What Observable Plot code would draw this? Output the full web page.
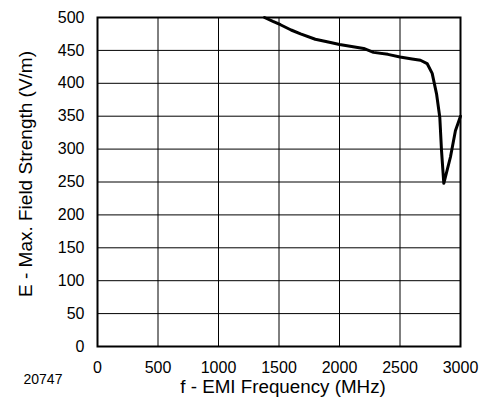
<!DOCTYPE html>
<html><head><meta charset="utf-8">
<script src="https://cdn.jsdelivr.net/npm/d3@7"></script>
<script src="https://cdn.jsdelivr.net/npm/@observablehq/plot@0.6"></script>
<style>body{margin:0;background:#fff}</style>
</head><body><div id="chart"></div>
<script>
const freq = [1380, 1450, 1512, 1600, 1678, 1800, 1926, 2000, 2100, 2200, 2281, 2400, 2500, 2600, 2669, 2724, 2766, 2802, 2829, 2843, 2862, 2917, 2958, 3000];
const field = [500, 494, 489, 481, 475, 467, 462, 459, 456, 453, 447, 444, 440, 437, 435, 430, 415, 384, 348, 298, 248, 288, 328, 350];
const xTicks = [0, 500, 1000, 1500, 2000, 2500, 3000];
const yTicks = [0, 50, 100, 150, 200, 250, 300, 350, 400, 450, 500];
const xLabel = "f - EMI Frequency (MHz)";
const yLabel = "E - Max. Field Strength (V/m)";
const figureId = "20747";
const data = freq.map((f, i) => ({f, e: field[i]}));

const chart = Plot.plot({
  width: 488, height: 405,
  marginLeft: 97, marginRight: 28, marginTop: 17, marginBottom: 59,
  style: {fontFamily: "Liberation Sans, Arial, sans-serif", fontSize: "16px", color: "#000", background: "#fff"},
  x: {domain: [0, 3000]},
  y: {domain: [0, 500]},
  marks: [
    Plot.gridX(xTicks, {stroke: "#000", strokeOpacity: 1, strokeWidth: 1}),
    Plot.gridY(yTicks, {stroke: "#000", strokeOpacity: 1, strokeWidth: 1}),
    Plot.axisX(xTicks, {tickSize: 0, tickPadding: 15, fontSize: 16, tickFormat: "d", label: null}),
    Plot.axisY(yTicks, {tickSize: 0, tickPadding: 13, fontSize: 16, tickFormat: "d", label: null}),
    Plot.line(data, {x: "f", y: "e", stroke: "#000", strokeWidth: 3, strokeLinejoin: "round", curve: "linear"}),
    Plot.frame({stroke: "#000", strokeWidth: 2}),
    Plot.text([xLabel], {frameAnchor: "bottom", dx: 4, dy: 46, fontSize: 18.8}),
    Plot.text([yLabel], {frameAnchor: "left", textAnchor: "middle", dx: -72, dy: -8, rotate: -90, fontSize: 19}),
    Plot.text([figureId], {frameAnchor: "bottom-left", dx: -74, dy: 37, fontSize: 14, textAnchor: "start"})
  ]
});
document.getElementById("chart").appendChild(chart);
</script>
</body></html>
